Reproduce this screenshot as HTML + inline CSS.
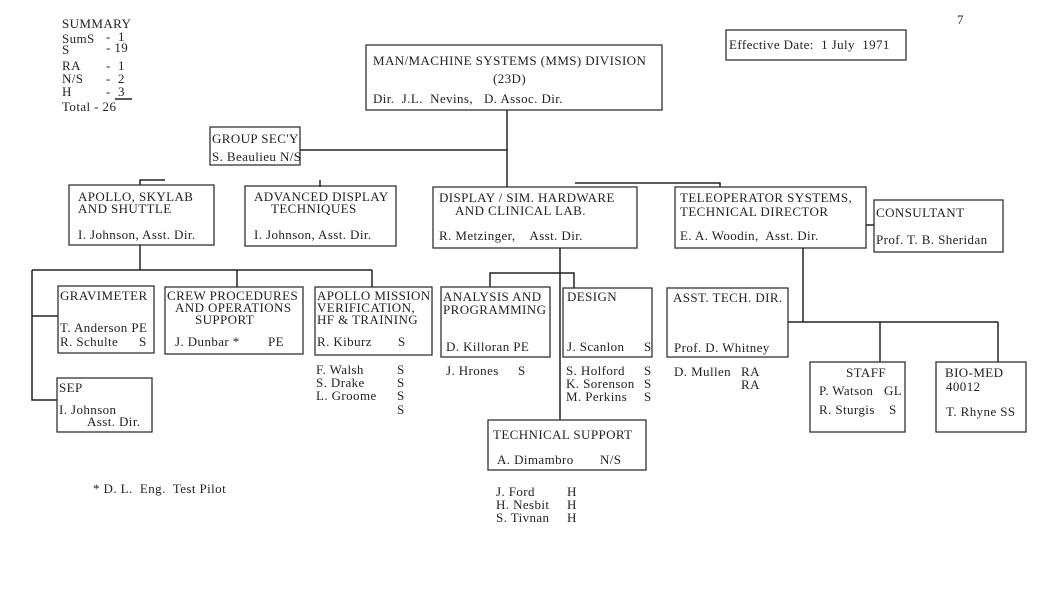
<!DOCTYPE html>
<html><head><meta charset="utf-8"><style>
html,body{margin:0;padding:0;background:#fff;}
svg{display:block;}
text{font-family:"Liberation Serif",serif;font-size:13px;letter-spacing:0.4px;fill:#222;white-space:pre;}
.b{fill:none;stroke:#333;stroke-width:1.3;}
.l{stroke:#222;stroke-width:1.5;fill:none;}
</style></head><body>
<svg width="1040" height="606" viewBox="0 0 1040 606" xml:space="preserve">
<text x="62" y="28">SUMMARY</text>
<text x="62" y="43">SumS</text><text x="106" y="41">-  1</text>
<text x="62" y="54">S</text><text x="106" y="52">- 19</text>
<text x="62" y="70">RA</text><text x="106" y="70">-  1</text>
<text x="62" y="83">N/S</text><text x="106" y="83">-  2</text>
<text x="62" y="96">H</text><text x="106" y="96">-  3</text>
<line class="l" x1="115" y1="99" x2="132" y2="99"/>
<text x="62" y="111">Total - 26</text>
<text x="957" y="24">7</text>
<rect class="b" x="726" y="30" width="180" height="30"/>
<text x="729" y="49">Effective Date:  1 July  1971</text>

<rect class="b" x="366" y="45" width="296" height="65"/>
<text x="373" y="65">MAN/MACHINE SYSTEMS (MMS) DIVISION</text>
<text x="493" y="83">(23D)</text>
<text x="373" y="103">Dir.  J.L.  Nevins,   D. Assoc. Dir.</text>

<rect class="b" x="210" y="127" width="90" height="38"/>
<text x="212" y="143">GROUP SEC'Y</text>
<text x="212" y="161">S. Beaulieu N/S</text>

<polyline class="l" points="507,110 507,187"/>
<polyline class="l" points="300,150 507,150"/>
<polyline class="l" points="575,183 720,183 720,187"/>
<polyline class="l" points="140,185 140,180 165,180"/>
<polyline class="l" points="320,180 320,187"/>

<rect class="b" x="69" y="185" width="145" height="60"/>
<text x="78" y="201">APOLLO, SKYLAB</text>
<text x="78" y="213">AND SHUTTLE</text>
<text x="78" y="239">I. Johnson, Asst. Dir.</text>

<rect class="b" x="245" y="186" width="151" height="60"/>
<text x="254" y="201">ADVANCED DISPLAY</text>
<text x="271" y="213">TECHNIQUES</text>
<text x="254" y="239">I. Johnson, Asst. Dir.</text>

<rect class="b" x="433" y="187" width="204" height="61"/>
<text x="439" y="202">DISPLAY / SIM. HARDWARE</text>
<text x="455" y="215">AND CLINICAL LAB.</text>
<text x="439" y="240">R. Metzinger,    Asst. Dir.</text>

<rect class="b" x="675" y="187" width="191" height="61"/>
<text x="680" y="202">TELEOPERATOR SYSTEMS,</text>
<text x="680" y="216">TECHNICAL DIRECTOR</text>
<text x="680" y="240">E. A. Woodin,  Asst. Dir.</text>

<line class="l" x1="866" y1="225" x2="874" y2="225"/>
<rect class="b" x="874" y="200" width="129" height="52"/>
<text x="876" y="217">CONSULTANT</text>
<text x="876" y="244">Prof. T. B. Sheridan</text>

<polyline class="l" points="140,245 140,270"/>
<polyline class="l" points="32,270 372,270"/>
<polyline class="l" points="237,270 237,287"/>
<polyline class="l" points="372,270 372,287"/>
<polyline class="l" points="32,270 32,400 57,400"/>
<polyline class="l" points="32,316 58,316"/>

<rect class="b" x="58" y="286" width="96" height="67"/>
<text x="60" y="300">GRAVIMETER</text>
<text x="60" y="332">T. Anderson PE</text>
<text x="60" y="346">R. Schulte</text><text x="139" y="346">S</text>

<rect class="b" x="165" y="287" width="138" height="67"/>
<text x="167" y="300">CREW PROCEDURES</text>
<text x="175" y="312">AND OPERATIONS</text>
<text x="195" y="324">SUPPORT</text>
<text x="175" y="346">J. Dunbar *</text><text x="268" y="346">PE</text>

<rect class="b" x="315" y="287" width="117" height="68"/>
<text x="317" y="300">APOLLO MISSION</text>
<text x="317" y="312">VERIFICATION,</text>
<text x="317" y="324">HF &amp; TRAINING</text>
<text x="317" y="346">R. Kiburz</text><text x="398" y="346">S</text>
<text x="316" y="374">F. Walsh</text><text x="397" y="374">S</text>
<text x="316" y="387">S. Drake</text><text x="397" y="387">S</text>
<text x="316" y="400">L. Groome</text><text x="397" y="400">S</text>
<text x="397" y="414">S</text>

<rect class="b" x="57" y="378" width="95" height="54"/>
<text x="59" y="392">SEP</text>
<text x="59" y="414">I. Johnson</text>
<text x="87" y="426">Asst. Dir.</text>

<polyline class="l" points="560,248 560,420"/>
<polyline class="l" points="490,287 490,273 574,273 574,288"/>

<rect class="b" x="441" y="287" width="109" height="70"/>
<text x="443" y="301">ANALYSIS AND</text>
<text x="443" y="314">PROGRAMMING</text>
<text x="446" y="351">D. Killoran PE</text>
<text x="446" y="375">J. Hrones</text><text x="518" y="375">S</text>

<rect class="b" x="563" y="288" width="89" height="69"/>
<text x="567" y="301">DESIGN</text>
<text x="567" y="351">J. Scanlon</text><text x="644" y="351">S</text>
<text x="566" y="375">S. Holford</text><text x="644" y="375">S</text>
<text x="566" y="388">K. Sorenson</text><text x="644" y="388">S</text>
<text x="566" y="401">M. Perkins</text><text x="644" y="401">S</text>

<rect class="b" x="488" y="420" width="158" height="50"/>
<text x="493" y="439">TECHNICAL SUPPORT</text>
<text x="497" y="464">A. Dimambro</text><text x="600" y="464">N/S</text>
<text x="496" y="496">J. Ford</text><text x="567" y="496">H</text>
<text x="496" y="509">H. Nesbit</text><text x="567" y="509">H</text>
<text x="496" y="522">S. Tivnan</text><text x="567" y="522">H</text>

<rect class="b" x="667" y="288" width="121" height="69"/>
<text x="673" y="302">ASST. TECH. DIR.</text>
<text x="674" y="352">Prof. D. Whitney</text>
<text x="674" y="376">D. Mullen</text><text x="741" y="376">RA</text>
<text x="741" y="389">RA</text>

<polyline class="l" points="803,248 803,322"/>
<polyline class="l" points="788,322 998,322"/>
<polyline class="l" points="880,322 880,362"/>
<polyline class="l" points="998,322 998,362"/>

<rect class="b" x="810" y="362" width="95" height="70"/>
<text x="846" y="377">STAFF</text>
<text x="819" y="395">P. Watson</text><text x="884" y="395">GL</text>
<text x="819" y="414">R. Sturgis</text><text x="889" y="414">S</text>

<rect class="b" x="936" y="362" width="90" height="70"/>
<text x="945" y="377">BIO-MED</text>
<text x="946" y="391">40012</text>
<text x="946" y="416">T. Rhyne SS</text>

<text x="93" y="493">* D. L.  Eng.  Test Pilot</text>
</svg>
</body></html>
